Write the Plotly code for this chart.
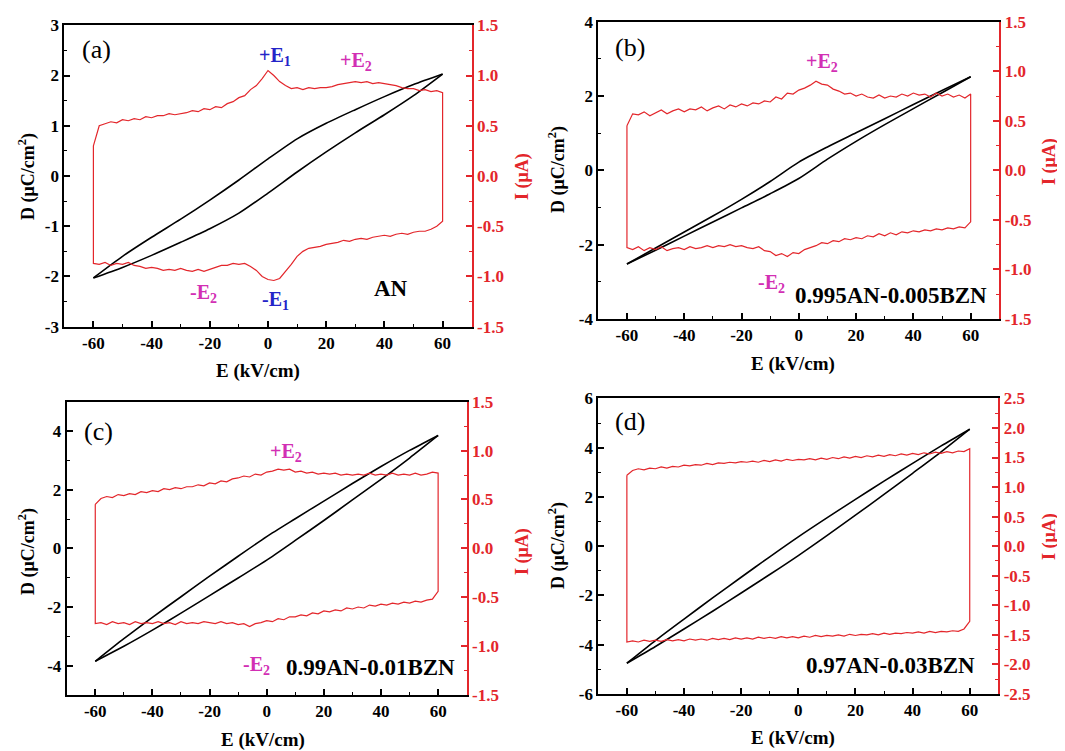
import plotly.graph_objects as go

W, H = 1065, 751
OFF = 8  # page body margin
RED = "#e3262b"
BLUE = "#2424c8"
MAG = "#d22fb4"
FONT = "Liberation Serif"

# ---------------- data ----------------
E_D = [-60, -50, -40, -30, -20, -10, 0, 10, 20, 30, 40, 50, 60]
E_I = [-60, -58, -56, -54, -52, -50, -48, -46, -44, -42, -40, -38, -36, -34, -32, -30,
       -28, -26, -24, -22, -20, -18, -16, -14, -12, -10, -8, -6, -4, -2, 0,
       2, 4, 6, 8, 10, 12, 14, 16, 18, 20, 22, 24, 26, 28, 30,
       32, 34, 36, 38, 40, 42, 44, 46, 48, 50, 52, 54, 56, 58, 60]

# (a) AN
D_up_a = [-2.03, -1.60, -1.22, -0.86, -0.48, -0.08, 0.34, 0.74, 1.05, 1.32, 1.58, 1.82, 2.03]
D_lo_a = [-2.03, -1.82, -1.58, -1.32, -1.05, -0.74, -0.34, 0.08, 0.48, 0.86, 1.22, 1.60, 2.03]
I_up_a = [0.30, 0.50, 0.52, 0.54, 0.53, 0.56, 0.55, 0.57, 0.56, 0.59, 0.58, 0.60, 0.60, 0.62, 0.61, 0.62,
          0.63, 0.65, 0.64, 0.67, 0.66, 0.69, 0.68, 0.72, 0.74, 0.78, 0.80, 0.86, 0.90, 0.97, 1.05,
          1.00, 0.94, 0.90, 0.87, 0.88, 0.86, 0.88, 0.87, 0.88, 0.88, 0.89, 0.91, 0.92, 0.93, 0.94,
          0.93, 0.94, 0.92, 0.93, 0.92, 0.91, 0.90, 0.88, 0.87, 0.87, 0.85, 0.86, 0.84, 0.85, 0.83]
I_lo_a = [-0.87, -0.88, -0.86, -0.89, -0.87, -0.88, -0.86, -0.89, -0.90, -0.92, -0.91, -0.92, -0.94, -0.93, -0.94, -0.92,
          -0.94, -0.95, -0.93, -0.95, -0.93, -0.91, -0.89, -0.89, -0.87, -0.88, -0.87, -0.90, -0.94, -1.00, -1.03,
          -1.04, -1.02, -0.95, -0.88, -0.80, -0.75, -0.72, -0.71, -0.70, -0.68, -0.67, -0.66, -0.64, -0.65, -0.63,
          -0.62, -0.63, -0.61, -0.60, -0.59, -0.60, -0.58, -0.57, -0.58, -0.56, -0.55, -0.55, -0.53, -0.50, -0.45]

# (b) 0.995AN-0.005BZN
D_up_b = [-2.52, -2.09, -1.66, -1.23, -0.78, -0.30, 0.22, 0.63, 1.01, 1.39, 1.77, 2.15, 2.52]
D_lo_b = [-2.52, -2.15, -1.77, -1.39, -1.01, -0.63, -0.22, 0.30, 0.78, 1.23, 1.66, 2.09, 2.52]
I_up_b = [0.45, 0.57, 0.56, 0.59, 0.55, 0.58, 0.61, 0.57, 0.60, 0.62, 0.59, 0.62, 0.61, 0.64, 0.60, 0.63,
          0.65, 0.62, 0.66, 0.64, 0.67, 0.65, 0.68, 0.67, 0.70, 0.69, 0.74, 0.72, 0.78, 0.77, 0.81,
          0.83, 0.86, 0.90, 0.87, 0.86, 0.82, 0.80, 0.77, 0.78, 0.75, 0.77, 0.74, 0.73, 0.76, 0.73,
          0.75, 0.74, 0.77, 0.75, 0.78, 0.76, 0.77, 0.74, 0.78, 0.75, 0.77, 0.74, 0.76, 0.73, 0.77]
I_lo_b = [-0.78, -0.80, -0.77, -0.81, -0.78, -0.80, -0.77, -0.81, -0.79, -0.78, -0.80, -0.77, -0.79, -0.78, -0.76, -0.78,
          -0.76, -0.77, -0.75, -0.77, -0.76, -0.78, -0.79, -0.77, -0.81, -0.82, -0.86, -0.84, -0.87, -0.83, -0.84,
          -0.80, -0.78, -0.76, -0.73, -0.74, -0.71, -0.72, -0.69, -0.70, -0.68, -0.69, -0.66, -0.67, -0.64, -0.66,
          -0.63, -0.65, -0.62, -0.63, -0.61, -0.62, -0.60, -0.61, -0.59, -0.60, -0.58, -0.59, -0.57, -0.58, -0.52]

# (c) 0.99AN-0.01BZN
D_up_c = [-3.85, -3.08, -2.35, -1.65, -0.95, -0.27, 0.40, 1.01, 1.61, 2.21, 2.79, 3.34, 3.85]
D_lo_c = [-3.85, -3.34, -2.79, -2.21, -1.61, -1.01, -0.40, 0.27, 0.95, 1.65, 2.35, 3.08, 3.85]
I_up_c = [0.45, 0.51, 0.53, 0.52, 0.55, 0.54, 0.56, 0.55, 0.58, 0.57, 0.59, 0.58, 0.61, 0.60, 0.62, 0.61,
          0.63, 0.63, 0.65, 0.64, 0.67, 0.66, 0.69, 0.68, 0.71, 0.72, 0.74, 0.73, 0.76, 0.75, 0.78,
          0.79, 0.81, 0.80, 0.81, 0.78, 0.79, 0.77, 0.78, 0.76, 0.77, 0.76, 0.77, 0.75, 0.76, 0.75,
          0.76, 0.75, 0.77, 0.75, 0.76, 0.75, 0.77, 0.75, 0.76, 0.75, 0.77, 0.75, 0.76, 0.78, 0.77]
I_lo_c = [-0.77, -0.76, -0.78, -0.75, -0.77, -0.76, -0.78, -0.75, -0.77, -0.76, -0.77, -0.75, -0.77, -0.76, -0.78, -0.75,
          -0.77, -0.76, -0.77, -0.75, -0.76, -0.77, -0.75, -0.77, -0.76, -0.78, -0.77, -0.80, -0.77, -0.76, -0.74,
          -0.75, -0.72, -0.73, -0.70, -0.70, -0.68, -0.69, -0.66, -0.67, -0.64, -0.65, -0.63, -0.64, -0.61, -0.62,
          -0.60, -0.61, -0.58, -0.59, -0.57, -0.58, -0.56, -0.57, -0.55, -0.56, -0.54, -0.55, -0.53, -0.52, -0.44]

# (d) 0.97AN-0.03BZN
D_up_d = [-4.75, -3.83, -2.96, -2.10, -1.26, -0.43, 0.38, 1.15, 1.90, 2.64, 3.36, 4.07, 4.75]
D_lo_d = [-4.75, -4.07, -3.36, -2.64, -1.90, -1.15, -0.38, 0.43, 1.26, 2.10, 2.96, 3.83, 4.75]
I_up_d = [1.20, 1.28, 1.31, 1.29, 1.32, 1.31, 1.34, 1.32, 1.35, 1.34, 1.37, 1.36, 1.38, 1.37, 1.40, 1.38,
          1.41, 1.40, 1.42, 1.41, 1.43, 1.42, 1.44, 1.42, 1.45, 1.43, 1.46, 1.44, 1.47, 1.45, 1.47,
          1.46, 1.48, 1.46, 1.49, 1.47, 1.50, 1.48, 1.51, 1.49, 1.52, 1.50, 1.53, 1.51, 1.54, 1.52,
          1.55, 1.53, 1.56, 1.54, 1.57, 1.55, 1.58, 1.56, 1.59, 1.57, 1.60, 1.58, 1.61, 1.60, 1.65]
I_lo_d = [-1.62, -1.60, -1.62, -1.59, -1.61, -1.59, -1.61, -1.58, -1.60, -1.58, -1.60, -1.57, -1.59, -1.57, -1.59, -1.56,
          -1.58, -1.56, -1.58, -1.55, -1.57, -1.55, -1.57, -1.54, -1.56, -1.54, -1.56, -1.53, -1.55, -1.53, -1.55,
          -1.52, -1.54, -1.51, -1.53, -1.51, -1.52, -1.50, -1.52, -1.49, -1.51, -1.49, -1.50, -1.48, -1.50, -1.47,
          -1.49, -1.47, -1.48, -1.46, -1.47, -1.45, -1.47, -1.44, -1.46, -1.44, -1.45, -1.43, -1.44, -1.40, -1.27]

# tick labels
X_TICKS = [-60, -40, -20, 0, 20, 40, 60]
X_LABELS = ["-60", "-40", "-20", "0", "20", "40", "60"]
DL_TICKS_A = [-3, -2, -1, 0, 1, 2, 3]
DL_LABELS_A = ["-3", "-2", "-1", "0", "1", "2", "3"]
DL_TICKS_B = [-4, -2, 0, 2, 4]
DL_LABELS_B = ["-4", "-2", "0", "2", "4"]
DL_TICKS_C = [-4, -2, 0, 2, 4]
DL_LABELS_C = ["-4", "-2", "0", "2", "4"]
DL_TICKS_D = [-6, -4, -2, 0, 2, 4, 6]
DL_LABELS_D = ["-6", "-4", "-2", "0", "2", "4", "6"]
IR_TICKS_15 = [-1.5, -1.0, -0.5, 0.0, 0.5, 1.0, 1.5]
IR_LABELS_15 = ["-1.5", "-1.0", "-0.5", "0.0", "0.5", "1.0", "1.5"]
IR_TICKS_25 = [-2.5, -2.0, -1.5, -1.0, -0.5, 0.0, 0.5, 1.0, 1.5, 2.0, 2.5]
IR_LABELS_25 = ["-2.5", "-2.0", "-1.5", "-1.0", "-0.5", "0.0", "0.5", "1.0", "1.5", "2.0", "2.5"]

# ---------------- layout per panel (pixel boxes) ----------------
panels = [
    dict(box=(64.3, 471.7, 25.3, 326.7), D=(D_up_a, D_lo_a), I=(I_up_a, I_lo_a),
         yl=(DL_TICKS_A, DL_LABELS_A, 3, 0.5), yr=(IR_TICKS_15, IR_LABELS_15, 1.5),
         dtitle=(27, 177), ititle=(522, 177), etitle=(258, 371)),
    dict(box=(598.3, 999.3, 21.7, 319.0), D=(D_up_b, D_lo_b), I=(I_up_b, I_lo_b),
         yl=(DL_TICKS_B, DL_LABELS_B, 4, 1), yr=(IR_TICKS_15, IR_LABELS_15, 1.5),
         dtitle=(557, 170), ititle=(1049, 162), etitle=(793, 364)),
    dict(box=(66.7, 466.7, 401.7, 695.0), D=(D_up_c, D_lo_c), I=(I_up_c, I_lo_c),
         yl=(DL_TICKS_C, DL_LABELS_C, 5, 1), yr=(IR_TICKS_15, IR_LABELS_15, 1.5),
         dtitle=(27, 552), ititle=(522, 552), etitle=(263, 740)),
    dict(box=(598.3, 998.3, 398.4, 694.0), D=(D_up_d, D_lo_d), I=(I_up_d, I_lo_d),
         yl=(DL_TICKS_D, DL_LABELS_D, 6, 1), yr=(IR_TICKS_25, IR_LABELS_25, 2.5),
         dtitle=(557, 546), ititle=(1049, 537), etitle=(793, 738)),
]


def nx(px):
    return (px - OFF) / W


def ny(py):
    return 1 - (py - OFF) / H


fig = go.Figure()
layout = {}
annotations = []

tick_font = dict(family=FONT, size=17, color="black", weight="bold")
tick_font_red = dict(family=FONT, size=17, color=RED, weight="bold")
title_font = dict(family=FONT, size=18, color="black", weight="bold")

for i, p in enumerate(panels):
    xn = i + 1
    yln = 2 * i + 1
    yrn = 2 * i + 2
    xk = "xaxis" if xn == 1 else f"xaxis{xn}"
    ylk = "yaxis" if yln == 1 else f"yaxis{yln}"
    yrk = f"yaxis{yrn}"
    xr = "x" if xn == 1 else f"x{xn}"
    ylr = "y" if yln == 1 else f"y{yln}"
    yrr = f"y{yrn}"
    x0, x1, y0, y1 = p["box"]

    layout[xk] = dict(
        domain=[nx(x0), nx(x1)], anchor=ylr, range=[-70, 70], automargin=False,
        tickmode="array", tickvals=X_TICKS, ticktext=X_LABELS,
        ticks="inside", ticklen=6, tickwidth=1.5, tickcolor="black",
        minor=dict(ticks="inside", ticklen=3, tickwidth=1.2, tickcolor="black",
                   tickvals=[-50, -30, -10, 10, 30, 50]),
        showline=True, linecolor="black", linewidth=2, mirror=True,
        showgrid=False, zeroline=False, tickfont=tick_font,
    )
    lt, ll, lmax, lminor = p["yl"]
    nminor = int(round(2 * lmax / lminor))
    layout[ylk] = dict(
        domain=[ny(y1), ny(y0)], anchor=xr, range=[-lmax, lmax], automargin=False,
        tickmode="array", tickvals=lt, ticktext=ll,
        ticks="inside", ticklen=6, tickwidth=1.5, tickcolor="black",
        minor=dict(ticks="inside", ticklen=3, tickwidth=1.2, tickcolor="black",
                   tickvals=[-lmax + k * lminor for k in range(nminor + 1)]),
        showline=True, linecolor="black", linewidth=2, mirror=False,
        showgrid=False, zeroline=False, tickfont=tick_font,
    )
    rt, rl, rmax = p["yr"]
    nminor_r = int(round(2 * rmax / 0.25))
    layout[yrk] = dict(
        overlaying=ylr, side="right", anchor=xr, range=[-rmax, rmax], automargin=False,
        tickmode="array", tickvals=rt, ticktext=rl,
        ticks="inside", ticklen=6, tickwidth=1.5, tickcolor=RED,
        minor=dict(ticks="inside", ticklen=3, tickwidth=1.2, tickcolor=RED,
                   tickvals=[-rmax + k * 0.25 for k in range(nminor_r + 1)]),
        showline=True, linecolor=RED, linewidth=2,
        showgrid=False, zeroline=False, tickfont=tick_font_red,
    )

    I_up, I_lo = p["I"]
    fig.add_trace(go.Scatter(
        x=E_I + E_I[::-1] + [E_I[0]], y=I_up + I_lo[::-1] + [I_up[0]],
        mode="lines", line=dict(color=RED, width=1.2),
        xaxis=xr, yaxis=yrr, showlegend=False, hoverinfo="skip"))
    D_up, D_lo = p["D"]
    for arr in (D_lo, D_up):
        fig.add_trace(go.Scatter(
            x=E_D, y=arr, mode="lines",
            line=dict(color="black", width=1.6, shape="spline", smoothing=0.7),
            xaxis=xr, yaxis=ylr, showlegend=False, hoverinfo="skip"))

    dx, dy = p["dtitle"]
    annotations.append(dict(text="D (μC/cm<sup>2</sup>)", x=nx(dx), y=ny(dy), xref="paper", yref="paper",
                            textangle=-90, showarrow=False, font=title_font,
                            xanchor="center", yanchor="middle"))
    ix, iy = p["ititle"]
    annotations.append(dict(text="I (μA)", x=nx(ix), y=ny(iy), xref="paper", yref="paper",
                            textangle=-90, showarrow=False,
                            font=dict(family=FONT, size=18, color=RED, weight="bold"),
                            xanchor="center", yanchor="middle"))
    ex, ey = p["etitle"]
    annotations.append(dict(text="E (kV/cm)", x=nx(ex), y=ny(ey), xref="paper", yref="paper",
                            showarrow=False, font=dict(family=FONT, size=19, color="black", weight="bold"),
                            xanchor="center", yanchor="middle"))

labels = [
    ("(a)", 96, 50, "black", 26, "normal"),
    ("+E<sub>1</sub>", 275, 57, BLUE, 20, "bold"),
    ("+E<sub>2</sub>", 356, 62, MAG, 20, "bold"),
    ("-E<sub>2</sub>", 203, 293, MAG, 20, "bold"),
    ("-E<sub>1</sub>", 275, 300, BLUE, 20, "bold"),
    ("AN", 391, 288, "black", 23, "bold"),
    ("(b)", 630, 47, "black", 26, "normal"),
    ("+E<sub>2</sub>", 822, 63, MAG, 20, "bold"),
    ("-E<sub>2</sub>", 771, 284, MAG, 20, "bold"),
    ("0.995AN-0.005BZN", 891, 296, "black", 23, "bold"),
    ("(c)", 98, 431, "black", 26, "normal"),
    ("+E<sub>2</sub>", 286, 452, MAG, 20, "bold"),
    ("-E<sub>2</sub>", 256, 665, MAG, 20, "bold"),
    ("0.99AN-0.01BZN", 370, 667, "black", 23, "bold"),
    ("(d)", 630, 421, "black", 26, "normal"),
    ("0.97AN-0.03BZN", 890, 665, "black", 23, "bold"),
]
for t, px, py, col, sz, wt in labels:
    annotations.append(dict(text=t, x=nx(px), y=ny(py), xref="paper", yref="paper",
                            showarrow=False, xanchor="center", yanchor="middle",
                            font=dict(family=FONT, size=sz, color=col, weight=wt)))

fig.update_layout(**layout)
fig.update_layout(
    width=W, height=H, margin=dict(l=0, r=0, t=0, b=0, autoexpand=False),
    paper_bgcolor="white", plot_bgcolor="white",
    annotations=annotations, showlegend=False,
    font=dict(family=FONT),
)
fig.write_html("out.html")
